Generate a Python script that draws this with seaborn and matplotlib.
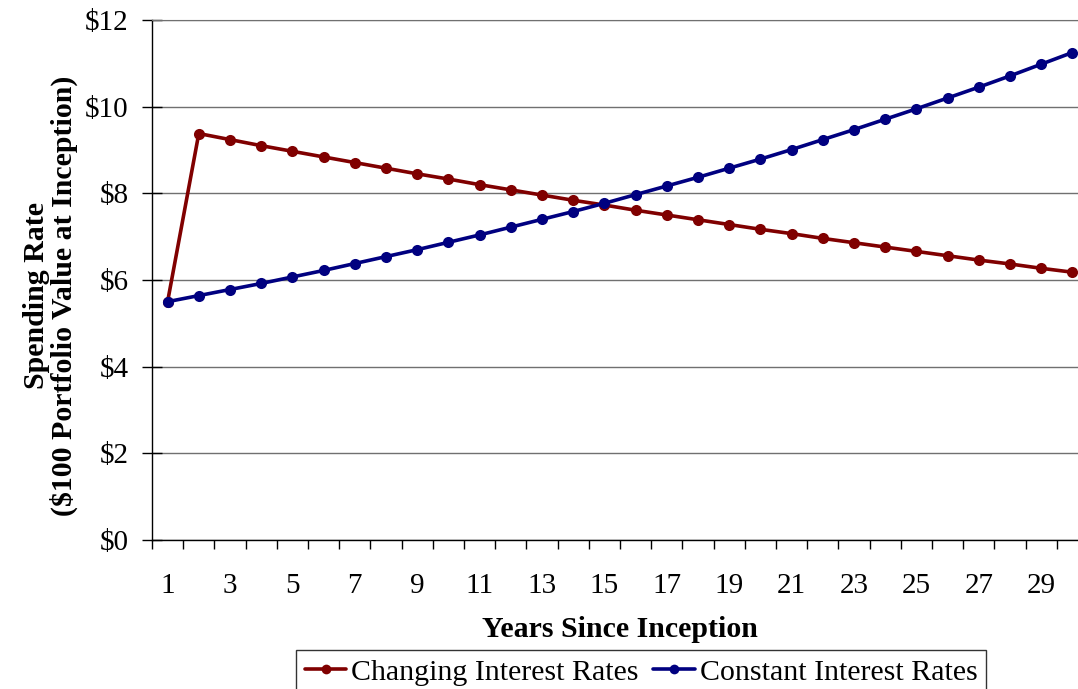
import numpy as np
import pandas as pd
import seaborn as sns
import matplotlib.pyplot as plt
from matplotlib.lines import Line2D

# data
years = list(range(1, 31))
changing = [5.50, 9.38, 9.24, 9.10, 8.97, 8.84, 8.71, 8.58, 8.45, 8.33,
            8.20, 8.08, 7.96, 7.84, 7.73, 7.61, 7.50, 7.39, 7.28, 7.17,
            7.07, 6.96, 6.86, 6.76, 6.66, 6.56, 6.46, 6.37, 6.27, 6.18]
constant = [5.50, 5.64, 5.78, 5.92, 6.07, 6.22, 6.38, 6.54, 6.70, 6.87,
            7.04, 7.22, 7.40, 7.58, 7.77, 7.97, 8.17, 8.37, 8.58, 8.79,
            9.01, 9.24, 9.47, 9.71, 9.95, 10.20, 10.45, 10.71, 10.98, 11.25]
series_names = ['Changing Interest Rates', 'Constant Interest Rates']
colors = ['#800000', '#000080']
ytick_vals = [0, 2, 4, 6, 8, 10, 12]
ytick_labels = ['$0', '$2', '$4', '$6', '$8', '$10', '$12']
xtick_vals = list(range(1, 31, 2))

sns.set_style('white')
plt.rcParams['font.family'] = ['Liberation Serif', 'DejaVu Serif']
plt.rcParams['text.color'] = 'black'
plt.rcParams['axes.labelcolor'] = 'black'
plt.rcParams['xtick.color'] = 'black'
plt.rcParams['ytick.color'] = 'black'

df = pd.DataFrame({'year': years * 2,
                   'value': changing + constant,
                   'series': [series_names[0]] * 30 + [series_names[1]] * 30})

fig = plt.figure(figsize=(10.78, 6.89), dpi=100)
ax = fig.add_axes([152 / 1078, 1 - 540 / 689, (1088 - 152) / 1078, (540 - 20) / 689])

sns.lineplot(data=df, x='year', y='value', hue='series', palette=colors,
             marker='o', markersize=8, markeredgewidth=0, linewidth=2.6,
             legend=False, ax=ax, clip_on=False)

ax.set_xlim(0.5, 30.5)
ax.set_ylim(0, 12)
ax.set_yticks(ytick_vals)
ax.set_yticklabels(ytick_labels)
ax.set_xticks(xtick_vals)
ax.set_xticklabels([str(v) for v in xtick_vals])
ax.set_xticks(np.arange(0.5, 31, 1.0), minor=True)

ax.tick_params(axis='y', which='major', direction='inout', length=14, width=1,
               pad=10, labelsize=21, left=True)
ax.tick_params(axis='x', which='major', length=0, pad=24, labelsize=21)
ax.tick_params(axis='x', which='minor', direction='out', length=6.5, width=1,
               bottom=True)

ax.yaxis.grid(True, color='#707070', linewidth=1)
ax.set_axisbelow(True)
for s in ['left', 'bottom']:
    ax.spines[s].set_color('black')
    ax.spines[s].set_linewidth(1)
ax.spines['top'].set_color('#707070')
ax.spines['right'].set_visible(False)

ax.set_xlabel('Years Since Inception', fontsize=21.5, fontweight='bold', labelpad=12)
ax.set_ylabel('Spending Rate\n($100 Portfolio Value at Inception)', fontsize=21.5,
              fontweight='bold', linespacing=1.0)
ax.yaxis.set_label_coords(-0.079, 0.47)

handles = [Line2D([], [], color=c, marker='o', markersize=7, linewidth=2.6,
                  markeredgewidth=0) for c in colors]
leg = fig.legend(handles, series_names, loc='upper center',
                 bbox_to_anchor=(641 / 1078, 1 - 650 / 689), ncol=2,
                 fontsize=21.5, frameon=True, fancybox=False, handlelength=1.4,
                 handletextpad=0.15, columnspacing=0.5, borderpad=0.3,
                 borderaxespad=0)
leg.get_frame().set_edgecolor('black')
leg.get_frame().set_linewidth(1)

fig.savefig('out.png', dpi=100)
